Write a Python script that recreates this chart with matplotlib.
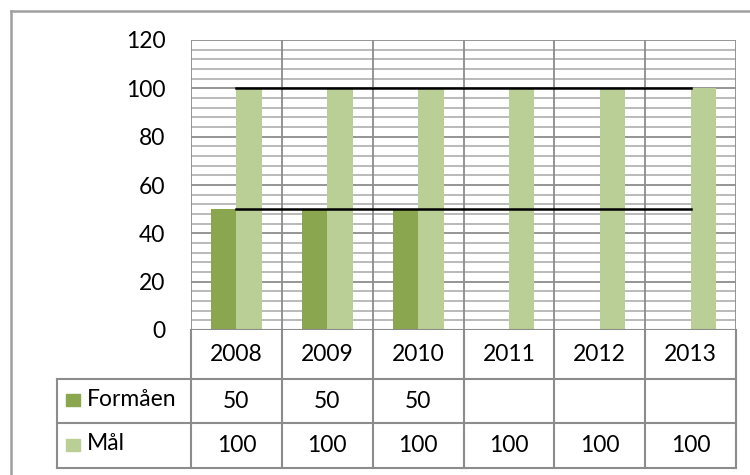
import matplotlib
matplotlib.use("Agg")
import matplotlib.pyplot as plt
from matplotlib.lines import Line2D
from matplotlib.patches import Rectangle
import numpy as np

plt.rcParams['font.family'] = ['Lato', 'DejaVu Sans']

years = ['2008', '2009', '2010', '2011', '2012', '2013']
formaen = [50, 50, 50, None, None, None]
maal = [100, 100, 100, 100, 100, 100]
series_names = ['Formåen', 'Mål']
colors = ['#8aa64f', '#b9cf95']
ref_levels = [100, 50]

W, H = 750, 475
fig = plt.figure(figsize=(W / 100, H / 100), dpi=100)


def fx(px):
    return px / W


def fy(py):
    return 1 - py / H


# plot area
left, right, top, bottom = 191, 736, 40, 330
ax = fig.add_axes([fx(left), fy(bottom), fx(right - left), fy(top) - fy(bottom)])
n = len(years)
x = np.arange(n) + 0.5
bw = 0.28

ax.set_xlim(0, n)
ax.set_ylim(0, 120)

# gridlines
for v in range(4, 120, 4):
    if v % 20:
        ax.axhline(v, color='#b4b4b4', lw=1.3, zorder=0)
for v in range(20, 121, 20):
    ax.axhline(v, color='#8c8c8c', lw=1.3, zorder=0)
for b in range(0, n + 1):
    ax.axvline(b, color='#8c8c8c', lw=1.3, zorder=0)

f_vals = [v if v is not None else 0 for v in formaen]
ax.bar(x - bw / 2, f_vals, bw, color=colors[0], zorder=2)
ax.bar(x + bw / 2, maal, bw, color=colors[1], zorder=2)

for lv in ref_levels:
    ax.plot([x[0], x[-1]], [lv, lv], color='black', lw=1.8, zorder=3)

ax.set_xticks([])
ax.set_yticks(range(0, 121, 20))
ax.tick_params(axis='y', length=0, pad=18.5, labelsize=16.5)
for s in ax.spines.values():
    s.set_visible(False)
ax.axhline(0, color='#8c8c8c', lw=1.5, zorder=4)

# data table
row_edges = [330, 379, 423, 468]
head_left = 57
tax = fig.add_axes([fx(head_left), fy(row_edges[-1]), fx(right - head_left), fy(row_edges[0]) - fy(row_edges[-1])])
hw = (left - head_left) / ((right - left) / n)
tax.set_xlim(-hw, n)
tax.set_ylim(row_edges[-1], row_edges[0])
tax.axis('off')
lc = '#8c8c8c'
for b in range(0, n + 1):
    tax.plot([b, b], [row_edges[0], row_edges[-1]], color=lc, lw=1.5, clip_on=False)
for r in row_edges[1:]:
    tax.plot([-hw, n], [r, r], color=lc, lw=1.5, clip_on=False)
tax.plot([-hw, -hw], [row_edges[1], row_edges[-1]], color=lc, lw=1.5, clip_on=False)

mid = [(row_edges[i] + row_edges[i + 1]) / 2 for i in range(3)]
for i, yr in enumerate(years):
    tax.text(x[i], mid[0], yr, ha='center', va='center', fontsize=16.5)
for r, vals in enumerate([formaen, maal]):
    for i, v in enumerate(vals):
        if v is not None:
            tax.text(x[i], mid[r + 1], str(v), ha='center', va='center', fontsize=16.5)

unit = (right - left) / n
for r, name in enumerate(series_names):
    cy = mid[r + 1] - 1
    tax.add_patch(Rectangle((-hw + 9 / unit, cy - 6), 14 / unit, 12,
                            color=colors[r], clip_on=False))
    tax.text(-hw + 30 / unit, cy - 1, name, ha='left', va='center', fontsize=16.5)

# outer chart border
fig.add_artist(Line2D([fx(11), fx(11)], [fy(11), 0], color='#a0a0a0', lw=1.8))
fig.add_artist(Line2D([fx(11), 1], [fy(11), fy(11)], color='#a0a0a0', lw=1.8))

fig.savefig('out.png', dpi=100)
